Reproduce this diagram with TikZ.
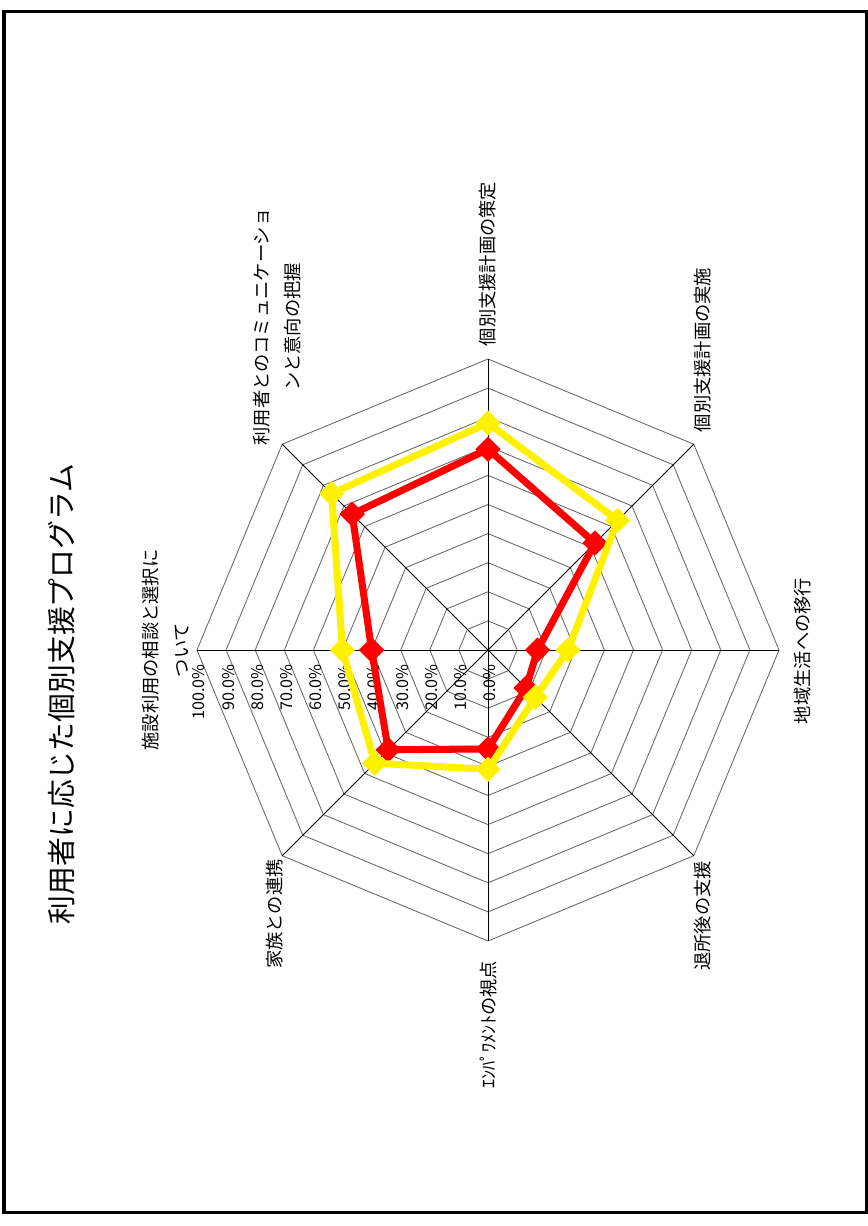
\documentclass[tikz,border=0pt]{standalone}
\usepackage{fontspec}
\setmainfont{Noto Sans CJK JP}
\usetikzlibrary{shapes.geometric}
\def\pct{2.91}

\tikzset{
	ring/.style={draw=black!60, line width=0.6pt},
	spoke/.style={draw=black, line width=0.6pt},
	series/.style={line width=5pt, line join=round},
	dmark/.style={diamond, inner sep=0pt, minimum size=6.4mm},
	catlabel/.style={rotate=90, align=center, font=\fontsize{13}{22}\selectfont},
	pctlabel/.style={rotate=90, anchor=east, inner sep=0pt, font=\fontsize{11.5}{12}\selectfont},
}

\begin{document}
\begin{tikzpicture}[x=0.25mm, y=0.25mm]
		%%%%% START %%%%%
		\useasboundingbox (0, 0) rectangle (867, 1226);
		\draw[line width=0.75mm] (4, 13) rectangle (866, 1214);
		
		\node[rotate=90, font=\fontsize{20.5}{24}\selectfont] (title) at (62, 532) {利用者に応じた個別支援プログラム};
		
		\begin{scope}[shift={(488, 576)}]
		% rings and spokes
		\foreach \r in {10,20,...,100}
			\draw[ring] (0:\r*\pct) \foreach \a in {45,90,...,315} {-- (\a:\r*\pct)} -- cycle;
		\foreach \a in {0,45,...,315}
			\draw[spoke] (0, 0) -- (\a:100*\pct);
		
		% scale
		\foreach \v in {0,10,...,100}
			\node[pctlabel] (pct\v) at (-\v*\pct+2, -14) {\v.0\%};
		
		% categories
		\node[catlabel] (cat1) at (-322, 0) {施設利用の相談と選択に\\ついて};
		\node[catlabel] (cat2) at (-211, 323) {利用者とのコミュニケーショ\\ンと意向の把握};
		\node[catlabel] (cat3) at (0, 386) {個別支援計画の策定};
		\node[catlabel] (cat4) at (215, 300) {個別支援計画の実施};
		\node[catlabel] (cat5) at (315, -1) {地域生活への移行};
		\node[catlabel] (cat6) at (215, -266) {退所後の支援};
		\node[catlabel] (cat7) at (0, -375) {ｴﾝﾊﾟﾜﾒﾝﾄの視点};
		\node[catlabel] (cat8) at (-213, -264) {家族との連携};
		
		% red series
		\foreach \a/\v [count=\i] in {180/40, 135/66, 90/69, 45/52, 0/17, -45/18.5, -90/34, -135/48.5}
			\coordinate (red\i) at (\a:\v*\pct);
		\draw[series, red] (red1) -- (red2) -- (red3) -- (red4) -- (red5) -- (red6) -- (red7) -- (red8) -- cycle;
		\foreach \i in {1,...,8}
			\node[dmark, fill=red] (redm\i) at (red\i) {};
		
		% yellow series
		\foreach \a/\v [count=\i] in {180/50, 135/76, 90/78, 45/63, 0/27.5, -45/23, -90/41, -135/55}
			\coordinate (yel\i) at (\a:\v*\pct);
		\draw[series, yellow] (yel1) -- (yel2) -- (yel3) -- (yel4) -- (yel5) -- (yel6) -- (yel7) -- (yel8) -- cycle;
		\foreach \i in {1,...,8}
			\node[dmark, fill=yellow] (yelm\i) at (yel\i) {};
		\end{scope}
		%%%%% END %%%%%
\end{tikzpicture}
\end{document}
